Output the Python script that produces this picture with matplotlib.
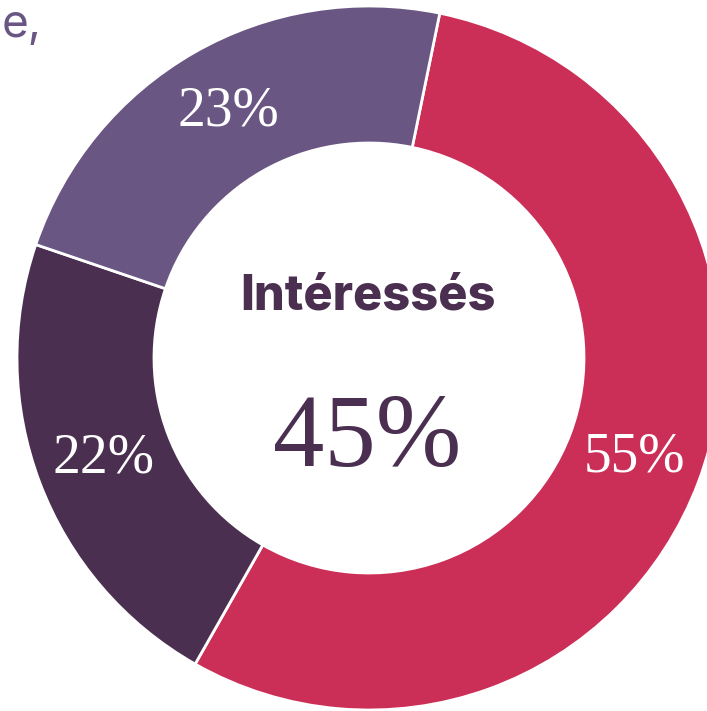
import matplotlib
matplotlib.use("Agg")
import matplotlib.pyplot as plt

# Data
categories = ["Intéressés (rouge)", "Groupe foncé", "Groupe clair"]
values = [55, 22, 23]
colors = ["#CB2F57", "#4B2F51", "#6A5683"]
center_title = "Intéressés"
center_value = "45%"
corner_text = "e,"

W, H = 707, 711
fig = plt.figure(figsize=(W / 100, H / 100), dpi=100)
ax = fig.add_axes([0, 0, 1, 1])

cx, cy, R = 369, 353, 352
inner = 215

wedges, texts, autotexts = ax.pie(
    values, colors=colors, startangle=78.4, counterclock=False,
    center=(cx, cy), radius=R, frame=True,
    wedgeprops=dict(width=R - inner, edgecolor="white", linewidth=2.0),
    autopct=lambda p: f"{p:.0f}%", pctdistance=(R + inner) / 2 / R,
    textprops=dict(color="white", fontsize=40, family="Liberation Serif"),
)
ax.set_xlim(0, W)
ax.set_ylim(0, H)
ax.set_aspect("equal")
ax.axis("off")

ax.text(368, 402, center_title, ha="center", va="baseline", fontsize=35,
        fontweight=800, family="Inter", color="#4B2F51")
ax.text(367, 245, center_value, ha="center", va="baseline", fontsize=74,
        family="Liberation Serif", color="#4B2F51")
ax.text(2, 674, corner_text, ha="left", va="baseline", fontsize=33,
        family="Inter", color="#6A5683")

fig.savefig("out.png", dpi=100)
